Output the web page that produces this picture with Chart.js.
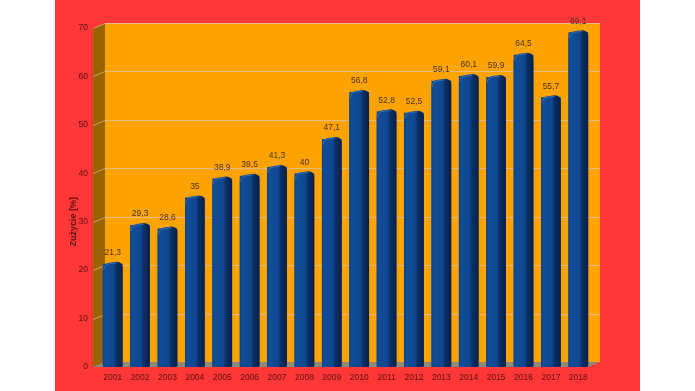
<!DOCTYPE html>
<html>
<head>
<meta charset="utf-8">
<script src="https://cdn.jsdelivr.net/npm/chart.js@4/dist/chart.umd.min.js"></script>
<style>
  html, body { margin: 0; padding: 0; background: #ffffff; }
  #wrap { position: absolute; left: 55px; top: 0; width: 585px; height: 391px; }
</style>
</head>
<body>
<div id="wrap"><canvas id="c" width="585" height="391"></canvas></div>
<script>
const years = ['2001','2002','2003','2004','2005','2006','2007','2008','2009','2010','2011','2012','2013','2014','2015','2016','2017','2018'];
const usage = [21.3, 29.3, 28.6, 35, 38.9, 39.5, 41.3, 40, 47.1, 56.8, 52.8, 52.5, 59.1, 60.1, 59.9, 64.5, 55.7, 69.1];
const yTicks = [0, 10, 20, 30, 40, 50, 60, 70];
const axisTitle = 'Zużycie [%]';

const DX = 6, DY = 5;
const fontFamily = '"Liberation Sans", Arial, sans-serif';

function fmt(v) { return String(v).replace('.', ','); }

const scenePlugin = {
  id: 'scene',
  beforeDraw(chart) {
    const { ctx, chartArea: a, scales: { y } } = chart;
    ctx.save();
    ctx.fillStyle = '#ff3737';
    ctx.fillRect(0, 0, chart.width, chart.height);
    const backL = a.left + DX, backR = a.right + 8;
    // back wall
    ctx.fillStyle = '#ffa300';
    ctx.fillRect(backL, a.top - DY, backR - backL, a.bottom - a.top);
    // side wall
    ctx.fillStyle = '#9b6200';
    ctx.beginPath();
    ctx.moveTo(a.left - DX, a.top);
    ctx.lineTo(a.left + DX, a.top - DY);
    ctx.lineTo(a.left + DX, a.bottom - DY);
    ctx.lineTo(a.left - DX, a.bottom);
    ctx.closePath();
    ctx.fill();
    // floor
    ctx.fillStyle = '#8e8a78';
    ctx.beginPath();
    ctx.moveTo(a.left - DX, a.bottom);
    ctx.lineTo(a.left + DX, a.bottom - DY);
    ctx.lineTo(backR, a.bottom - DY);
    ctx.lineTo(backR - 2 * DX, a.bottom);
    ctx.closePath();
    ctx.fill();
    // grid lines
    ctx.lineWidth = 1;
    yTicks.forEach(v => {
      if (v === 0) return;
      const py = Math.round(y.getPixelForValue(v)) + 0.5;
      ctx.strokeStyle = 'rgba(225,190,150,0.85)';
      ctx.beginPath();
      ctx.moveTo(backL, py - DY);
      ctx.lineTo(backR, py - DY);
      ctx.stroke();
      ctx.strokeStyle = 'rgba(210,170,120,0.9)';
      ctx.beginPath();
      ctx.moveTo(a.left - DX, py);
      ctx.lineTo(a.left + DX, py - DY);
      ctx.stroke();
    });
    // axis title
    ctx.fillStyle = '#5a0f0f';
    ctx.font = 'bold 9px ' + fontFamily;
    ctx.textAlign = 'center';
    ctx.textBaseline = 'middle';
    ctx.translate(19, y.getPixelForValue(30));
    ctx.rotate(-Math.PI / 2);
    ctx.fillText(axisTitle, 0, 0);
    ctx.restore();
  },
  afterDatasetsDraw(chart) {
    const { ctx } = chart;
    const meta = chart.getDatasetMeta(0);
    ctx.save();
    meta.data.forEach((bar, i) => {
      const w = bar.width, x0 = bar.x - w / 2, x1 = bar.x + w / 2;
      const top = bar.y, base = bar.base;
      const g = ctx.createLinearGradient(x0, 0, x1, 0);
      g.addColorStop(0, '#0c3f82');
      g.addColorStop(0.12, '#114d98');
      g.addColorStop(0.55, '#0f4790');
      g.addColorStop(0.68, '#0b3067');
      g.addColorStop(1, '#071f44');
      const r = Math.min(6, w / 2);
      ctx.fillStyle = g;
      ctx.beginPath();
      ctx.moveTo(x0, base - 2);
      ctx.lineTo(x0, top + r);
      ctx.quadraticCurveTo(x0, top, x0 + r, top - 1);
      ctx.lineTo(x1 - r, top - 2);
      ctx.quadraticCurveTo(x1, top - 2, x1, top + r - 2);
      ctx.lineTo(x1, base - 2);
      ctx.quadraticCurveTo(x1, base, x1 - r, base);
      ctx.lineTo(x0 + r, base);
      ctx.quadraticCurveTo(x0, base, x0, base - 2);
      ctx.closePath();
      ctx.fill();
      // top cap highlight
      ctx.strokeStyle = 'rgba(90,140,210,0.55)';
      ctx.lineWidth = 1;
      ctx.beginPath();
      ctx.moveTo(x0 + 1, top + r);
      ctx.quadraticCurveTo(x0 + 1, top + 1, x0 + r, top);
      ctx.lineTo(x1 - r, top - 1);
      ctx.stroke();
      // value label
      ctx.fillStyle = '#4a3222';
      ctx.font = '8.5px ' + fontFamily;
      ctx.textAlign = 'center';
      ctx.textBaseline = 'middle';
      ctx.fillText(fmt(usage[i]), bar.x, top - 11);
    });
    ctx.restore();
  }
};

new Chart(document.getElementById('c'), {
  type: 'bar',
  data: {
    labels: years,
    datasets: [{
      data: usage,
      backgroundColor: '#0f4790',
      borderWidth: 0,
      barPercentage: 0.72,
      categoryPercentage: 1
    }]
  },
  options: {
    responsive: false,
    animation: false,
    devicePixelRatio: 1,
    layout: { padding: { top: 28, right: 48, left: 0, bottom: 0 } },
    plugins: { legend: { display: false }, tooltip: { enabled: false } },
    scales: {
      x: {
        grid: { display: false, drawTicks: false },
        border: { display: false },
        ticks: { color: '#5a0f0f', font: { family: fontFamily, size: 8.5 }, padding: 6, maxRotation: 0, autoSkip: false },
        afterFit(s) { s.height = 24; }
      },
      y: {
        min: 0, max: 70,
        grid: { display: false, drawTicks: false },
        border: { display: false },
        ticks: { stepSize: 10, color: '#5a0f0f', font: { family: fontFamily, size: 8.5 }, padding: 11 },
        afterFit(s) { s.width = 44; }
      }
    }
  },
  plugins: [scenePlugin]
});
</script>
</body>
</html>
